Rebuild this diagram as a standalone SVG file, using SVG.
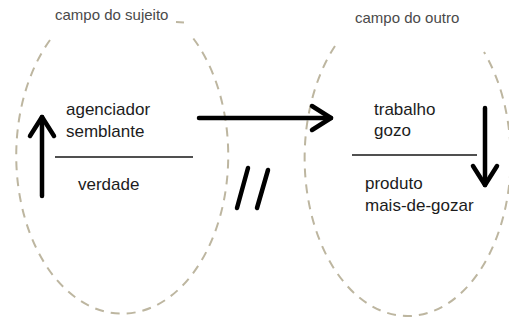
<svg xmlns="http://www.w3.org/2000/svg" width="509" height="324" viewBox="0 0 509 324">
  <style>
    .field { fill: none; stroke: #bdb6a0; stroke-width: 2; stroke-dasharray: 9 7; }
    .label { font-family: "Liberation Sans", Arial, sans-serif; font-size: 15px; fill: #4a4a4a; }
    .term { font-family: "Liberation Sans", Arial, sans-serif; font-size: 17px; fill: #1c1c1c; }
    .bar { stroke: #505050; stroke-width: 2; }
    .arrow { fill: none; stroke: #000; stroke-width: 4.5; stroke-linecap: round; }
  </style>
  <defs>
    <marker id="chev" markerUnits="userSpaceOnUse" viewBox="-26 -18 30 36" markerWidth="30" markerHeight="36" refX="0" refY="0" orient="auto" overflow="visible">
      <path d="M -19 -12 L 0 0 L -19 12" fill="none" stroke="#000" stroke-width="4.5" stroke-linecap="round" stroke-linejoin="round"/>
    </marker>
  </defs>
  <rect width="509" height="324" fill="#ffffff"/>

  <g id="campo-sujeito">
    <path class="field" d="M 50 40 A 106 158 0 1 0 193 38"/>
    <path class="field" d="M 176 22 L 184 22.5"/>
    <text class="label" x="55" y="20">campo do sujeito</text>
  </g>

  <g id="campo-outro">
    <path class="field" d="M 335 46 A 103 158 0 1 0 484 52"/>
    <text class="label" x="355" y="23">campo do outro</text>
  </g>

  <g id="node-agente">
    <text class="term" x="66" y="115">agenciador</text>
    <text class="term" x="66" y="137">semblante</text>
    <line class="bar" x1="55" y1="157" x2="193" y2="157"/>
    <text class="term" x="78" y="190">verdade</text>
  </g>

  <g id="node-outro">
    <text class="term" x="374" y="115">trabalho</text>
    <text class="term" x="374" y="136">gozo</text>
    <line class="bar" x1="352" y1="155" x2="477" y2="155"/>
    <text class="term" x="365" y="189">produto</text>
    <text class="term" x="365" y="211">mais-de-gozar</text>
  </g>

  <g id="connectors">
    <path class="arrow" d="M 42 196 L 42 117" marker-end="url(#chev)"/>
    <path class="arrow" d="M 199 118 L 331 118" marker-end="url(#chev)"/>
    <path class="arrow" d="M 485 108 L 485 185" marker-end="url(#chev)"/>
    <line class="arrow" x1="248" y1="168" x2="237" y2="208"/>
    <line class="arrow" x1="268" y1="170" x2="257" y2="208"/>
  </g>
</svg>
